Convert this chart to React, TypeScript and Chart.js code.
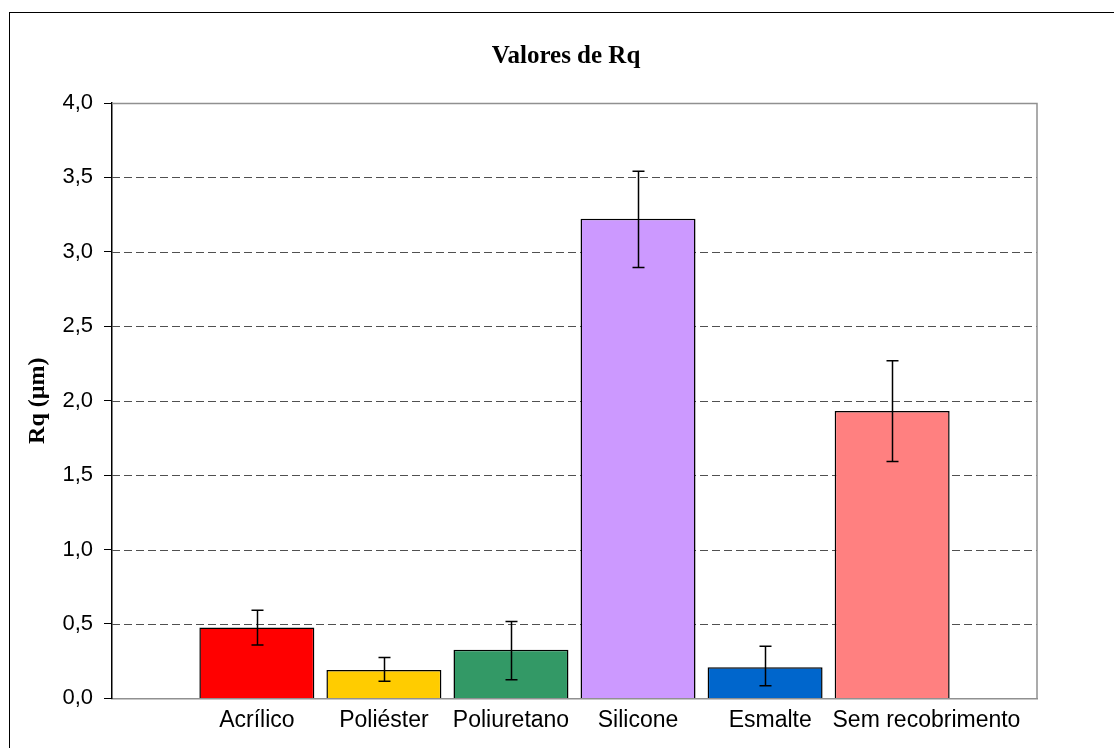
import React, { useEffect, useRef } from "react";
import { Chart, registerables } from "chart.js";

Chart.register(...registerables);

const categories = ["Acrílico", "Poliéster", "Poliuretano", "Silicone", "Esmalte", "Sem recobrimento"];
const rqValues = [0.477, 0.19, 0.327, 3.223, 0.21, 1.931];
const errHigh = [0.593, 0.275, 0.517, 3.541, 0.351, 2.268];
const errLow = [0.358, 0.116, 0.125, 2.895, 0.085, 1.591];
const barColors = ["#FF0000", "#FFCC00", "#339966", "#CC99FF", "#0066CC", "#FF8080"];
const yTicks = [0, 0.5, 1, 1.5, 2, 2.5, 3, 3.5, 4];
const chartTitle = "Valores de Rq";
const yTitle = "Rq (µm)";

const framePlugin = {
  id: "framePlugin",
  beforeDraw(chart: any) {
    const ctx = chart.ctx;
    ctx.save();
    ctx.fillStyle = "#ffffff";
    ctx.fillRect(0, 0, chart.width, chart.height);
    ctx.strokeStyle = "#000000";
    ctx.lineWidth = 1;
    ctx.strokeRect(9.5, 12.5, chart.width + 50, chart.height + 50);
    ctx.fillStyle = "#000000";
    ctx.font = "bold 25px 'Liberation Serif', 'Times New Roman', serif";
    ctx.textAlign = "center";
    ctx.textBaseline = "alphabetic";
    ctx.fillText(chartTitle, 566, 63);
    ctx.restore();
  },
  beforeDatasetsDraw(chart: any) {
    const ctx = chart.ctx;
    const { left, right, top, bottom } = chart.chartArea;
    const y = chart.scales.y;
    ctx.save();
    ctx.strokeStyle = "#505050";
    ctx.lineWidth = 1;
    ctx.setLineDash([8, 4]);
    yTicks.forEach((v) => {
      if (v <= 0 || v >= 4) return;
      const py = Math.round(y.getPixelForValue(v)) + 0.5;
      ctx.beginPath();
      ctx.moveTo(left, py);
      ctx.lineTo(right, py);
      ctx.stroke();
    });
    ctx.setLineDash([]);
    ctx.strokeStyle = "#909090";
    ctx.lineWidth = 1.5;
    ctx.beginPath();
    ctx.moveTo(left, top + 0.5);
    ctx.lineTo(right, top + 0.5);
    ctx.lineTo(right, bottom);
    ctx.stroke();
    ctx.restore();
  },
  afterDatasetsDraw(chart: any) {
    const ctx = chart.ctx;
    const x = chart.scales.x;
    const y = chart.scales.y;
    ctx.save();
    ctx.strokeStyle = "#000000";
    ctx.lineWidth = 1.5;
    categories.forEach((_, i) => {
      const px = Math.round(x.getPixelForValue(i)) + 0.5;
      const hi = y.getPixelForValue(errHigh[i]);
      const lo = y.getPixelForValue(errLow[i]);
      ctx.beginPath();
      ctx.moveTo(px, hi);
      ctx.lineTo(px, lo);
      ctx.moveTo(px - 6, hi);
      ctx.lineTo(px + 6, hi);
      ctx.moveTo(px - 6, lo);
      ctx.lineTo(px + 6, lo);
      ctx.stroke();
    });
    ctx.restore();
  },
};

// label nudges (in category units) so neighbouring labels do not overlap, as in the original
const labelNudge = [0, 0, 0, 0, 0.04, 0.27];

export default function App() {
  const ref = useRef<HTMLCanvasElement | null>(null);
  useEffect(() => {
    if (!ref.current) return;
    const chart = new Chart(ref.current, {
      type: "bar",
      data: {
        datasets: [
          {
            data: rqValues.map((v, i) => ({ x: i, y: v })),
            backgroundColor: barColors,
            borderColor: "#000000",
            borderWidth: 1.5,
            barPercentage: 0.905,
            categoryPercentage: 1,
          },
        ],
      },
      options: {
        animation: false,
        responsive: false,
        maintainAspectRatio: false,
        layout: { padding: { left: 0, right: 77, top: 103, bottom: 6 } },
        plugins: {
          legend: { display: false },
          tooltip: { enabled: false },
          title: { display: false },
        },
        scales: {
          x: {
            type: "linear",
            offset: false,
            min: -1.14,
            max: 6.14,
            afterBuildTicks: (scale: any) => {
              scale.ticks = categories.map((_, i) => ({ value: i + labelNudge[i] }));
            },
            ticks: {
              autoSkip: false,
              maxRotation: 0,
              minRotation: 0,
              padding: 8,
              color: "#000000",
              font: { family: "'Liberation Sans', Arial, sans-serif", size: 23 },
              callback: (_v: any, index: number) => categories[index] ?? "",
            },
            grid: { display: false, drawTicks: false, offset: false },
            border: { display: true, color: "#909090", width: 1.5 },
          },
          y: {
            min: 0,
            max: 4,
            afterBuildTicks: (scale: any) => {
              scale.ticks = yTicks.map((v) => ({ value: v }));
            },
            afterFit: (scale: any) => {
              scale.width = 112;
            },
            ticks: {
              padding: 11,
              color: "#000000",
              font: { family: "'Liberation Sans', Arial, sans-serif", size: 22 },
              callback: (v: any) => Number(v).toFixed(1).replace(".", ","),
            },
            grid: {
              drawOnChartArea: false,
              drawTicks: true,
              tickLength: 8,
              tickColor: "#000000",
              tickWidth: 1,
            },
            border: { display: true, color: "#000000", width: 1.5 },
            title: {
              display: true,
              text: yTitle,
              color: "#000000",
              font: { family: "'Liberation Serif', 'Times New Roman', serif", size: 24, weight: "bold" },
              padding: { top: 23, bottom: 0 },
            },
          },
        },
      },
      plugins: [framePlugin],
    } as any);
    return () => chart.destroy();
  }, []);
  return (
    <div style={{ position: "fixed", left: 0, top: 0, width: 1114, height: 748, background: "#fff" }}>
      <canvas ref={ref} width={1114} height={748} style={{ width: 1114, height: 748, display: "block" }} />
    </div>
  );
}
